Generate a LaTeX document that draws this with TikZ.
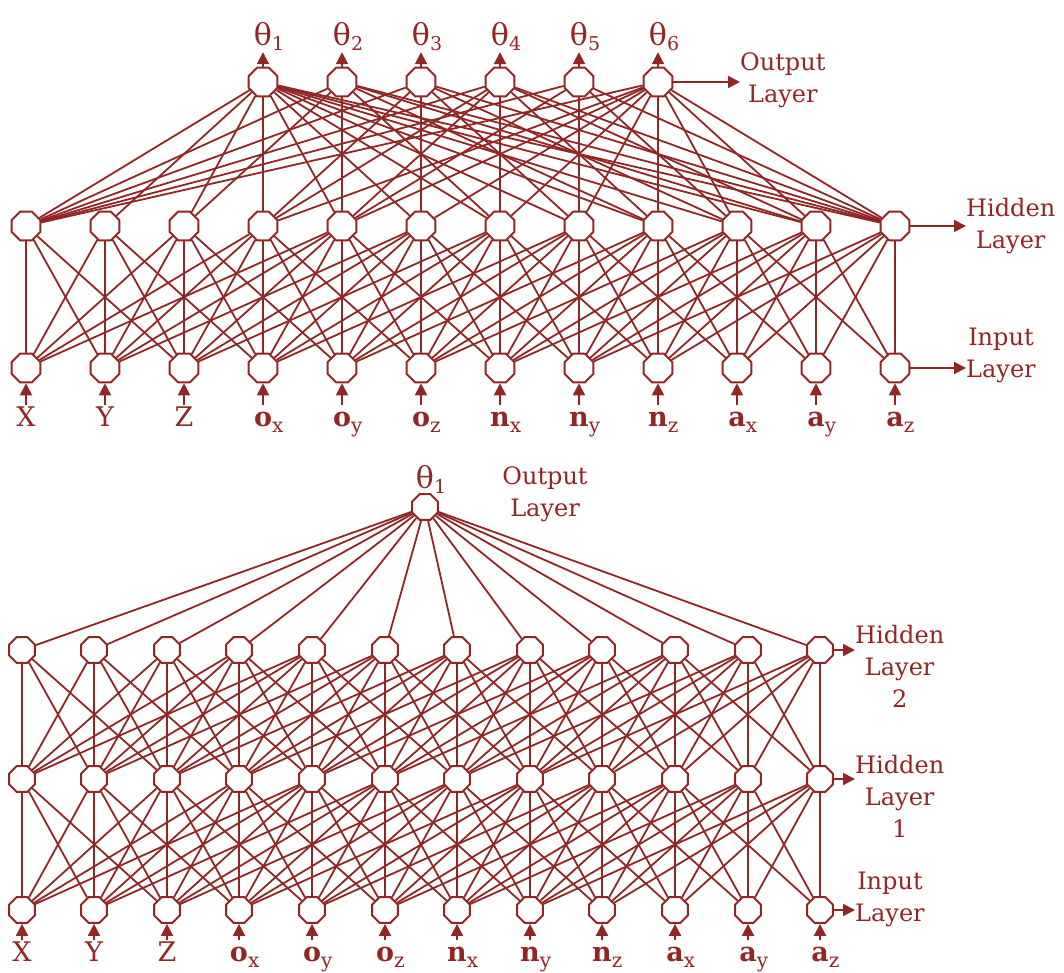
\documentclass[tikz,border=0pt]{standalone}
\usepackage{fontspec}
\setmainfont{DejaVu Serif}
\usetikzlibrary{shapes.geometric,arrows.meta}
\definecolor{nred}{RGB}{145,38,38}
\newcommand\nnlab[2]{\textbf{#1}\rlap{\raisebox{-6pt}{\fontsize{20}{20}\selectfont #2}}}
\newcommand\nnth[1]{θ\rlap{\raisebox{-5pt}{\fontsize{19}{19}\selectfont #1}}}
\begin{document}
\begin{tikzpicture}[x=1pt,y=-1pt,
  neur/.style={draw=nred,line width=1.9pt,fill=white,regular polygon,regular polygon sides=8,minimum size=31pt,inner sep=0pt},
  neurs/.style={neur,minimum size=28pt},
  conn/.style={draw=nred,line width=1.8pt},
  arr/.style={draw=nred,line width=1.9pt,-{Triangle[length=12pt,width=12pt]}},
  lab/.style={text=nred,font=\fontsize{27}{30}\selectfont,inner xsep=0pt,inner ysep=3pt,text height=18pt,text depth=0pt,anchor=base},
  thlab/.style={text=nred,font=\fontsize{30}{30}\selectfont,inner xsep=0pt,inner ysep=6pt,text depth=0pt,anchor=base},
  side/.style={text=nred,font=\fontsize{24}{32}\selectfont,align=center,inner sep=0pt}]
\useasboundingbox (0,0) rectangle (1064,973);

% ---------------- top network ----------------
\foreach \j in {0,...,11}{
  \node[neur] (ti\j) at ({26+79*\j},368) {};
  \node[neur] (th\j) at ({26+79*\j},226) {};
}
\foreach \k in {0,...,5}{
  \node[neur] (to\k) at ({263+79*\k},82) {};
}
% input -> hidden
\foreach \j in {0,...,11}{
  \foreach \d in {-4,...,2}{
    \pgfmathtruncatemacro{\i}{\j+\d}
    \ifnum\i>-1 \ifnum\i<12 \draw[conn] (ti\i) -- (th\j);\fi\fi
  }
}
% hidden -> output
\foreach \k/\lst in {0/{0,1,2,3,4,5,6,7,8,9,10,11},1/{0,2,4,6,8,10,11},2/{0,3,5,7,9,11},3/{0,3,4,6,8,10,11},4/{0,4,7,9,11},5/{0,3,4,5,6,7,8,9,10,11}}{
  \foreach \j in \lst {\draw[conn] (th\j) -- (to\k);}
}
% theta labels
\foreach \k in {0,...,5}{
  \pgfmathtruncatemacro{\kk}{\k+1}
  \node[thlab] (tl\k) at ({263+79*\k},46) {\nnth{\kk}};
  \draw[arr] (to\k) -- (tl\k.south);
}
% input labels
\foreach \j/\t in {0/X,1/Y,2/Z,3/\nnlab{o}{x},4/\nnlab{o}{y},5/\nnlab{o}{z},6/\nnlab{n}{x},7/\nnlab{n}{y},8/\nnlab{n}{z},9/\nnlab{a}{x},10/\nnlab{a}{y},11/\nnlab{a}{z}}{
  \node[lab] (tx\j) at ({26+79*\j},426) {\t};
  \draw[arr] (tx\j.north) -- (ti\j);
}
% side labels
\node[side,anchor=west] (tol) at (740,80) {Output\\Layer};
\draw[arr] (to5.east) -- (to5.east -| tol.west);
\node[side,anchor=west] (thl) at (966,226) {Hidden\\Layer};
\draw[arr] (th11.east) -- (th11.east -| thl.west);
\node[side,anchor=west] (til) at (966,355) {Input\\Layer};
\draw[arr] (ti11.east) -- (ti11.east -| til.west);

% ---------------- bottom network ----------------
\foreach \j in {0,...,11}{
  \node[neurs] (bi\j) at ({int(22+72.6*\j)},910) {};
  \node[neurs] (ba\j) at ({int(22+72.6*\j)},779) {};
  \node[neurs] (bb\j) at ({int(22+72.6*\j)},650) {};
}
\node[neurs] (bo) at (425,507) {};
\foreach \j in {0,...,11}{
  \foreach \d in {-4,...,2}{
    \pgfmathtruncatemacro{\i}{\j+\d}
    \ifnum\i>-1 \ifnum\i<12
      \draw[conn] (bi\i) -- (ba\j);
      \draw[conn] (ba\i) -- (bb\j);
    \fi\fi
  }
  \draw[conn] (bb\j) -- (bo);
}
\node[thlab,inner ysep=2pt] (bth) at (425,488) {\nnth{1}};
\node[side] (bol) at (545,494) {Output\\Layer};
\foreach \j/\t in {0/X,1/Y,2/Z,3/\nnlab{o}{x},4/\nnlab{o}{y},5/\nnlab{o}{z},6/\nnlab{n}{x},7/\nnlab{n}{y},8/\nnlab{n}{z},9/\nnlab{a}{x},10/\nnlab{a}{y},11/\nnlab{a}{z}}{
  \node[lab] (bx\j) at ({int(22+72.6*\j)},961) {\t};
  \draw[arr] (bx\j.north) -- (bi\j);
}
\node[side,anchor=west] (bh2l) at (855,666) {Hidden\\Layer\\2};
\draw[arr] (bb11.east) -- (bb11.east -| bh2l.west);
\node[side,anchor=west] (bh1l) at (855,796) {Hidden\\Layer\\1};
\draw[arr] (ba11.east) -- (ba11.east -| bh1l.west);
\node[side,anchor=west] (bil) at (855,899) {Input\\Layer};
\draw[arr] (bi11.east) -- (bi11.east -| bil.west);
\end{tikzpicture}
\end{document}
